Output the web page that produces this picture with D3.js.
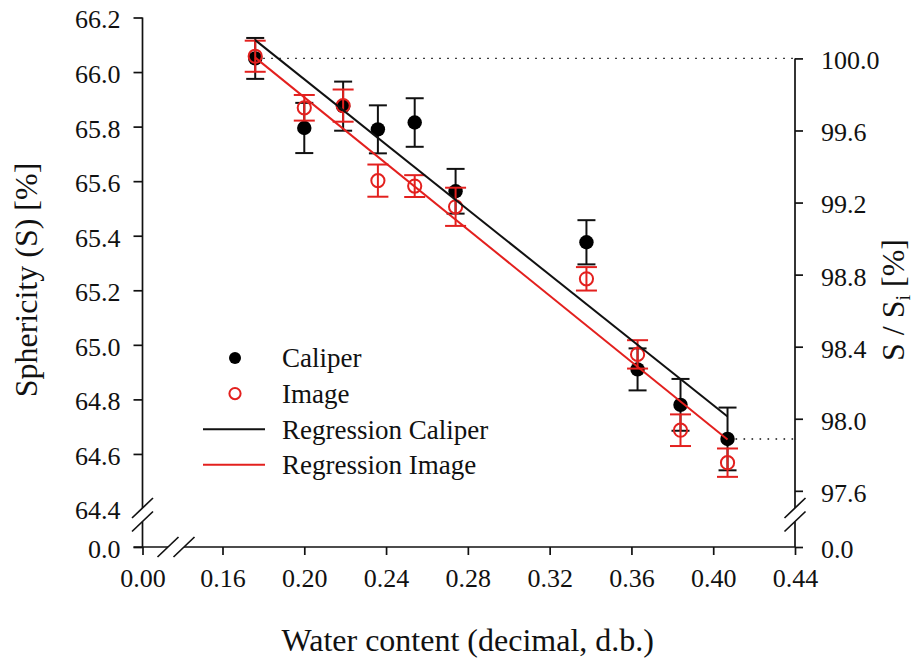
<!DOCTYPE html>
<html>
<head>
<meta charset="utf-8">
<script src="https://cdn.jsdelivr.net/npm/d3@7"></script>
<style>
  html, body { margin: 0; padding: 0; background: #fff; }
  svg { display: block; }
  text { font-family: "Liberation Serif", "Times New Roman", serif; fill: #111; }
</style>
</head>
<body>
<svg id="chart" width="919" height="663"></svg>
<script>
// Sphericity of the samples against water content (decimal, dry basis)
const waterContent = [0.176, 0.200, 0.219, 0.236, 0.254, 0.274, 0.338, 0.363, 0.384, 0.407];
const caliper      = [66.050, 65.795, 65.875, 65.790, 65.815, 65.563, 65.376, 64.910, 64.780, 64.655];
const caliperErr   = [0.075, 0.092, 0.090, 0.088, 0.089, 0.082, 0.081, 0.077, 0.095, 0.115];
const image        = [66.058, 65.869, 65.877, 65.602, 65.582, 65.506, 65.242, 64.965, 64.687, 64.568];
const imageErr     = [0.057, 0.047, 0.059, 0.059, 0.040, 0.070, 0.043, 0.052, 0.058, 0.052];

// Fitted regression lines (end points over the measured range)
const regWater   = [0.176, 0.407];
const regCaliper = [66.117, 64.737];
const regImage   = [66.053, 64.653];

// Axis ticks
const xTicks = [0.00, 0.16, 0.20, 0.24, 0.28, 0.32, 0.36, 0.40, 0.44];
const yTicks = [0.0, 64.4, 64.6, 64.8, 65.0, 65.2, 65.4, 65.6, 65.8, 66.0, 66.2];
const rTicks = [0.0, 97.6, 98.0, 98.4, 98.8, 99.2, 99.6, 100.0];

const legendLabels = ["Caliper", "Image", "Regression Caliper", "Regression Image"];

const RED = "#e3201e";
const INK = "#111";
const SERIF = '"Liberation Serif", "Times New Roman", serif';

const svg = d3.select("#chart");

// Broken scales: the first segment of each axis jumps from zero to the data range
const x = d3.scaleLinear().domain([0, 0.16, 0.44]).range([142.5, 222.5, 795]);
const y = d3.scaleLinear().domain([0, 64.4, 66.2]).range([547, 508.5, 17.5]);

// Right axis: sphericity relative to the initial value
const Si = caliper[0];
const yr = d3.scaleLinear()
  .domain([0, 97.6, 100])
  .range([y(0), y(97.6 / 100 * Si), y(Si)]);

const x0 = x.range()[0], x1 = x.range()[2];
const yBottom = y(0), yTop = y(66.2);

// ---- axes ----
const axisStroke = 1.7;

const gx = svg.append("g").attr("transform", `translate(0,${yBottom})`)
  .call(d3.axisBottom(x).tickValues(xTicks).tickFormat(d3.format(".2f")).tickSize(8).tickPadding(12));
const gy = svg.append("g").attr("transform", `translate(${x0},0)`)
  .call(d3.axisLeft(y).tickValues(yTicks).tickFormat(d3.format(".1f")).tickSize(9).tickPadding(13));
const gr = svg.append("g").attr("transform", `translate(${x1},0)`)
  .call(d3.axisRight(yr).tickValues(rTicks).tickFormat(d3.format(".1f")).tickSize(8).tickPadding(18));

[gx, gy, gr].forEach(g => {
  g.attr("font-family", SERIF).attr("font-size", 26);
  g.select(".domain").remove();
  g.selectAll(".tick line").attr("stroke", INK).attr("stroke-width", axisStroke);
  g.selectAll(".tick text").attr("font-size", 26).attr("fill", INK)
    .attr("font-family", SERIF).style("font-family", SERIF);
});
gx.selectAll(".tick text").attr("dy", "0.78em");
gy.selectAll(".tick text").attr("dy", "0.4em");
gr.selectAll(".tick text").attr("dy", "0.4em");
// the lowest break tick on the left axis is replaced by the break marks
gy.selectAll(".tick").filter(d => d === 64.4).select("line").remove();

// axis lines with break gaps
const brkY = [y(64.4) - 0.5, y(64.4) + 13];   // centres of the two break slashes (vertical axes)
const brkX = [168, 184];                     // centres of the two break slashes (x axis)
const lines = svg.append("g").attr("stroke", INK).attr("stroke-width", axisStroke).attr("fill", "none");
// left axis
lines.append("line").attr("x1", x0).attr("x2", x0).attr("y1", yTop).attr("y2", brkY[0]);
lines.append("line").attr("x1", x0).attr("x2", x0).attr("y1", brkY[1]).attr("y2", yBottom);
// right axis
lines.append("line").attr("x1", x1).attr("x2", x1).attr("y1", yr(100)).attr("y2", brkY[0]);
lines.append("line").attr("x1", x1).attr("x2", x1).attr("y1", brkY[1]).attr("y2", yBottom);
// bottom axis
lines.append("line").attr("x1", x0 - 9).attr("x2", brkX[0]).attr("y1", yBottom).attr("y2", yBottom);
lines.append("line").attr("x1", brkX[1]).attr("x2", x1).attr("y1", yBottom).attr("y2", yBottom);

// break slashes
const slash = (cx, cy) => lines.append("line")
  .attr("x1", cx - 10.5).attr("y1", cy + 10)
  .attr("x2", cx + 10.5).attr("y2", cy - 10);
brkY.forEach(cy => { slash(x0, cy); slash(x1, cy); });
brkX.forEach(cx => slash(cx, yBottom));

// ---- reference lines (dotted) ----
const dots = svg.append("g").attr("stroke", INK).attr("stroke-width", 1.4)
  .attr("stroke-dasharray", "1.6,6.4").attr("fill", "none");
dots.append("line")
  .attr("x1", x(waterContent[0])).attr("x2", x1)
  .attr("y1", y(Si)).attr("y2", y(Si));
const last = caliper.length - 1;
dots.append("line")
  .attr("x1", x(waterContent[last])).attr("x2", x1)
  .attr("y1", y(caliper[last])).attr("y2", y(caliper[last]));

// ---- error bars and markers ----
function errorBars(values, errs, color, cap) {
  const g = svg.append("g").attr("stroke", color).attr("stroke-width", 2).attr("fill", "none");
  values.forEach((v, i) => {
    const cx = x(waterContent[i]);
    const yt = y(v + errs[i]), yb = y(v - errs[i]);
    g.append("line").attr("x1", cx).attr("x2", cx).attr("y1", yt).attr("y2", yb);
    g.append("line").attr("x1", cx - cap).attr("x2", cx + cap).attr("y1", yt).attr("y2", yt);
    g.append("line").attr("x1", cx - cap).attr("x2", cx + cap).attr("y1", yb).attr("y2", yb);
  });
}

errorBars(caliper, caliperErr, INK, 9);
svg.append("g").selectAll("circle").data(caliper).join("circle")
  .attr("cx", (d, i) => x(waterContent[i])).attr("cy", d => y(d))
  .attr("r", 7.2).attr("fill", "#000");

errorBars(image, imageErr, RED, 10.5);
svg.append("g").selectAll("circle").data(image).join("circle")
  .attr("cx", (d, i) => x(waterContent[i])).attr("cy", d => y(d))
  .attr("r", 6.6).attr("fill", "none").attr("stroke", RED).attr("stroke-width", 2);

// ---- regression lines ----
const regLine = d3.line().x(d => x(d[0])).y(d => y(d[1]));
svg.append("path").attr("d", regLine(d3.zip(regWater, regCaliper)))
  .attr("stroke", INK).attr("stroke-width", 2).attr("fill", "none");
svg.append("path").attr("d", regLine(d3.zip(regWater, regImage)))
  .attr("stroke", RED).attr("stroke-width", 2).attr("fill", "none");

// ---- legend ----
const leg = svg.append("g").attr("transform", "translate(235,358)");
const rowH = 35.6;
leg.append("circle").attr("cx", 0).attr("cy", 0).attr("r", 6).attr("fill", "#000");
leg.append("circle").attr("cx", 0).attr("cy", rowH).attr("r", 5.6)
  .attr("fill", "none").attr("stroke", RED).attr("stroke-width", 2);
leg.append("line").attr("x1", -32).attr("x2", 30).attr("y1", rowH * 2).attr("y2", rowH * 2)
  .attr("stroke", INK).attr("stroke-width", 2);
leg.append("line").attr("x1", -32).attr("x2", 30).attr("y1", rowH * 3).attr("y2", rowH * 3)
  .attr("stroke", RED).attr("stroke-width", 2);
leg.selectAll("text.lbl").data(legendLabels).join("text").attr("class", "lbl")
  .attr("x", 47).attr("y", (d, i) => i * rowH).attr("dy", "0.35em")
  .attr("font-size", 27).text(d => d);

// ---- axis titles ----
svg.append("text")
  .attr("x", (x0 + x1) / 2 - 1).attr("y", 651)
  .attr("text-anchor", "middle").attr("font-size", 32)
  .text("Water content (decimal, d.b.)");

svg.append("text")
  .attr("transform", "translate(37,280) rotate(-90)")
  .attr("text-anchor", "middle").attr("font-size", 32)
  .text("Sphericity (S) [%]");

const rt = svg.append("text")
  .attr("transform", "translate(904,300) rotate(-90)")
  .attr("text-anchor", "middle").attr("font-size", 32);
rt.append("tspan").text("S / S");
rt.append("tspan").attr("font-size", 20).attr("dy", 6).text("i");
rt.append("tspan").attr("dy", -6).text(" [%]");
</script>
</body>
</html>
